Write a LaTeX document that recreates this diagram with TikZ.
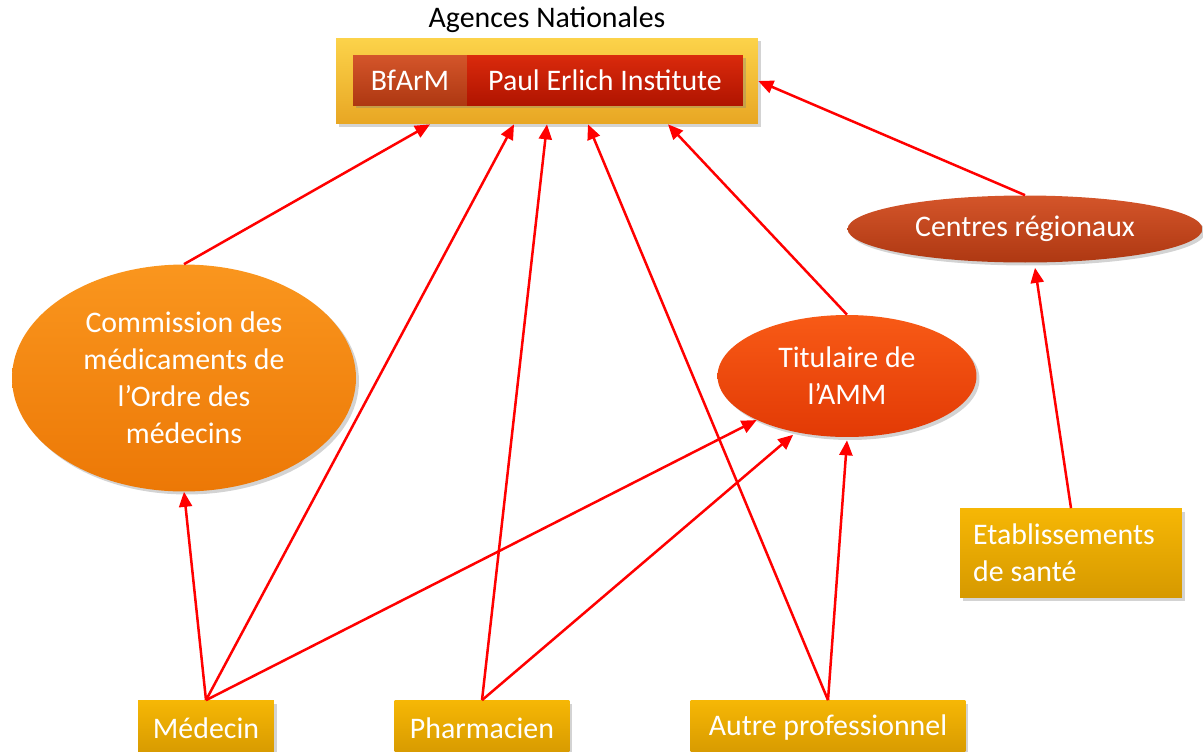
\documentclass[tikz,border=0pt]{standalone}
\usepackage{fontspec}
\setmainfont{Carlito}
\usepackage{tikz}
\usetikzlibrary{positioning,calc,shapes.geometric,arrows.meta,shadows}
\usepackage{xcolor}

\definecolor{goldtop}{HTML}{FCD34A}
\definecolor{goldbot}{HTML}{E8A623}
\definecolor{ambertop}{HTML}{F6B705}
\definecolor{amberbot}{HTML}{D69900}
\definecolor{rusttop}{HTML}{D4552A}
\definecolor{rustbot}{HTML}{AE3812}
\definecolor{redtop}{HTML}{DA2A0C}
\definecolor{redbot}{HTML}{B01400}
\definecolor{orangetop}{HTML}{FA961E}
\definecolor{orangebot}{HTML}{EC7806}
\definecolor{flametop}{HTML}{F85A16}
\definecolor{flamebot}{HTML}{E23A05}
\definecolor{linkred}{HTML}{FF0000}

\tikzset{
    txt/.style={font=\fontsize{17}{21}\selectfont, text=white, align=center, inner sep=0pt},
    shade/.style={drop shadow={opacity=0.35, shadow xshift=0.06cm, shadow yshift=-0.06cm}},
    actor/.style={txt, rectangle, shade, top color=ambertop, bottom color=amberbot,
        minimum height=1.1cm},
    agency/.style={txt, rectangle, shade, minimum height=1.0cm},
    organ/.style={txt, ellipse, shade},
    link/.style={draw=linkred, line width=0.05cm, -{Triangle[length=3mm, width=2.6mm]}}
}

\begin{document}
\begin{tikzpicture}[x=0.02cm, y=-0.02cm]
    \useasboundingbox (0,0) rectangle (1203,751);

    % National agencies
    \node[font=\fontsize{17}{21}\selectfont, inner sep=0pt] (title) at (547,20) {Agences Nationales};
    \node[rectangle, shade, top color=goldtop, bottom color=goldbot,
        minimum width=8.44cm, minimum height=1.72cm] (agences) at (547,81) {};
    \node[agency, top color=rusttop, bottom color=rustbot, minimum width=2.28cm] (bfarm) at (410,80) {BfArM};
    \node[agency, top color=redtop, bottom color=redbot, minimum width=5.52cm] (pei) at (605,80) {Paul Erlich Institute};

    % Intermediate bodies
    \node[organ, top color=orangetop, bottom color=orangebot,
        minimum width=6.88cm, minimum height=4.54cm] (comm) at (184,378)
        {Commission des\\médicaments de\\l’Ordre des\\médecins};
    \node[organ, top color=flametop, bottom color=flamebot,
        minimum width=5.18cm, minimum height=2.44cm] (tit) at (847,376) {Titulaire de\\l’AMM};
    \node[organ, top color=rusttop, bottom color=rustbot,
        minimum width=7.1cm, minimum height=1.34cm] (cen) at (1025,229) {Centres régionaux};

    % Reporters
    \node[actor, minimum width=2.72cm] (med) at (206,728) {Médecin};
    \node[actor, minimum width=3.5cm] (pha) at (482,728) {Pharmacien};
    \node[actor, minimum width=5.5cm] (aut) at (828,728) {Autre professionnel};
    \node[actor, minimum width=4.44cm, minimum height=1.78cm, align=left] (etab) at (1071,553)
        {Etablissements\rule{0.28cm}{0pt}\\de santé};

    % Reports to the national agencies
    \draw[link] (comm.north) -- ([xshift=-2.34cm]agences.south);
    \draw[link] (med.north) -- ([xshift=-0.66cm]agences.south);
    \draw[link] (pha.north) -- (agences.south);
    \draw[link] (aut.north) -- ([xshift=0.82cm]agences.south);
    \draw[link] (tit.north) -- ([xshift=2.42cm]agences.south);
    \draw[link] (cen.north) -- (agences.east);

    % Other reports
    \draw[link] (med.north) -- (comm.south);
    \draw[link] (med.north) -- (tit.206);
    \draw[link] (pha.north) -- ([yshift=-0.06cm]tit.226);
    \draw[link] (aut.north) -- ([yshift=-0.06cm]tit.south);
    \draw[link] (etab.north) -- ([xshift=0.2cm, yshift=-0.1cm]cen.south);

\end{tikzpicture}
\end{document}
